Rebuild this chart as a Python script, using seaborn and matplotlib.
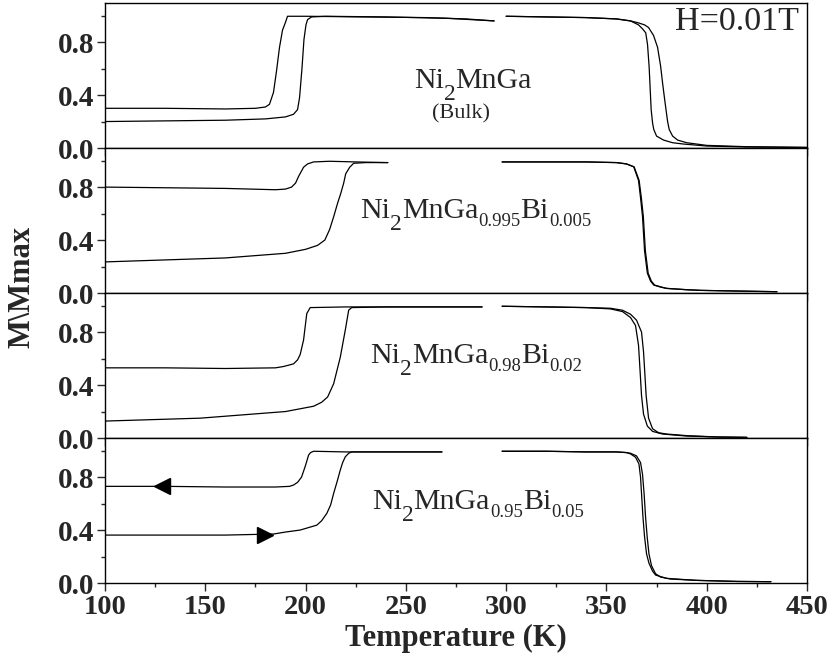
import numpy as np
import pandas as pd
import matplotlib
matplotlib.use("Agg")
import matplotlib.pyplot as plt
import seaborn as sns

# ---------------------------------------------------------------------------
# Normalised magnetisation M/Mmax vs temperature, H = 0.01 T
# low-T segment (martensitic transition) and high-T segment (Curie transition)
# ---------------------------------------------------------------------------

# Ni2MnGa (bulk)
T_bulk_cool_low = [100, 130, 160, 175, 180, 182, 184, 185.5, 187, 188.5, 190, 191, 200, 230, 260, 280, 294]
M_bulk_cool_low = [0.30, 0.30, 0.295, 0.30, 0.31, 0.33, 0.42, 0.58, 0.76, 0.89, 0.95, 0.995, 0.995, 0.99, 0.985, 0.975, 0.96]
T_bulk_heat_low = [100, 130, 160, 180, 190, 194, 196, 197, 198.2, 199.2, 200.2, 201, 203, 210, 240, 270, 294]
M_bulk_heat_low = [0.20, 0.205, 0.21, 0.22, 0.235, 0.255, 0.29, 0.38, 0.60, 0.82, 0.93, 0.97, 0.99, 0.995, 0.99, 0.98, 0.96]
T_bulk_cool_high = [300, 320, 340, 355, 362, 366, 368, 369.6, 370.5, 371.3, 371.8, 372.3, 373, 373.6, 375, 378.5, 383, 388.5, 400, 420, 450]
M_bulk_cool_high = [0.995, 0.99, 0.985, 0.975, 0.96, 0.93, 0.90, 0.87, 0.78, 0.61, 0.45, 0.29, 0.19, 0.14, 0.09, 0.06, 0.04, 0.03, 0.015, 0.008, 0.004]
T_bulk_heat_high = [300, 320, 340, 355, 362, 366, 369, 371, 373.5, 375.5, 377, 378, 379, 379.7, 380.5, 381.3, 383, 385.5, 390, 400, 420, 450]
M_bulk_heat_high = [0.995, 0.99, 0.985, 0.975, 0.96, 0.945, 0.93, 0.91, 0.85, 0.76, 0.62, 0.49, 0.37, 0.29, 0.20, 0.14, 0.09, 0.06, 0.04, 0.02, 0.01, 0.005]

# Ni2MnGa0.995Bi0.005
T_bi005_cool_low = [100, 130, 160, 185, 190, 193, 195, 196.5, 199, 201, 204, 212, 225, 241]
M_bi005_cool_low = [0.80, 0.795, 0.79, 0.78, 0.785, 0.80, 0.83, 0.88, 0.95, 0.975, 0.99, 0.995, 0.99, 0.985]
T_bi005_heat_low = [100, 130, 160, 190, 200, 206, 209.6, 212, 214, 216, 217.5, 219, 220, 222, 224, 230, 241]
M_bi005_heat_low = [0.235, 0.25, 0.265, 0.30, 0.33, 0.36, 0.40, 0.48, 0.576, 0.68, 0.75, 0.83, 0.90, 0.95, 0.98, 0.985, 0.985]
T_bi005_cool_high = [298, 320, 340, 355, 360, 363.6, 366, 367, 368, 369, 370.4, 372, 373.6, 377, 380, 390, 397, 415, 435]
M_bi005_cool_high = [0.99, 0.99, 0.99, 0.985, 0.975, 0.953, 0.85, 0.72, 0.576, 0.32, 0.15, 0.09, 0.06, 0.045, 0.035, 0.025, 0.02, 0.015, 0.01]
T_bi005_heat_high = [298, 320, 340, 355, 360, 363.8, 366.3, 367.4, 368.4, 369.4, 370.8, 372.4, 374, 377.4, 380, 390, 397, 415, 435]
M_bi005_heat_high = [0.99, 0.99, 0.99, 0.985, 0.975, 0.953, 0.85, 0.72, 0.576, 0.32, 0.15, 0.09, 0.06, 0.045, 0.035, 0.025, 0.02, 0.015, 0.01]

# Ni2MnGa0.98Bi0.02
T_bi02_cool_low = [100, 130, 160, 185, 189, 194, 196, 197.3, 199, 199.8, 200.6, 202.3, 220, 260, 288]
M_bi02_cool_low = [0.53, 0.53, 0.525, 0.53, 0.54, 0.56, 0.59, 0.63, 0.74, 0.84, 0.94, 0.985, 0.99, 0.99, 0.99]
T_bi02_heat_low = [100, 147.5, 190, 204, 208, 211, 214, 217.3, 219.8, 221.5, 223, 240, 288]
M_bi02_heat_low = [0.128, 0.15, 0.20, 0.24, 0.27, 0.31, 0.41, 0.61, 0.815, 0.966, 0.985, 0.99, 0.99]
T_bi02_cool_high = [298, 320, 340, 352, 358, 362, 364.5, 366, 366.8, 367.5, 368.5, 370.4, 373, 378, 390, 405, 420]
M_bi02_cool_high = [0.995, 0.99, 0.985, 0.975, 0.955, 0.91, 0.85, 0.70, 0.50, 0.32, 0.18, 0.09, 0.05, 0.03, 0.015, 0.008, 0.005]
T_bi02_heat_high = [298, 320, 340, 352, 358, 362, 365, 367.5, 368.5, 369.1, 369.8, 371, 373, 376, 380, 390, 405, 420]
M_bi02_heat_high = [0.995, 0.99, 0.985, 0.98, 0.965, 0.935, 0.89, 0.80, 0.65, 0.50, 0.32, 0.15, 0.07, 0.04, 0.03, 0.018, 0.008, 0.005]

# Ni2MnGa0.95Bi0.05
T_bi05_cool_low = [100, 130, 160, 185, 192, 194, 196, 198, 199.8, 201, 201.5, 202.5, 204, 220, 250, 268]
M_bi05_cool_low = [0.73, 0.73, 0.725, 0.725, 0.73, 0.74, 0.76, 0.80, 0.88, 0.94, 0.966, 0.985, 0.995, 0.99, 0.99, 0.99]
T_bi05_heat_low = [100, 130, 160, 184, 190, 197.3, 205.6, 208, 210.6, 212.5, 214, 215.8, 217.3, 218.5, 219.8, 221.5, 223, 240, 268]
M_bi05_heat_low = [0.362, 0.362, 0.362, 0.37, 0.385, 0.40, 0.437, 0.47, 0.526, 0.59, 0.677, 0.77, 0.853, 0.91, 0.953, 0.98, 0.99, 0.99, 0.99]
T_bi05_cool_high = [298, 320, 340, 355, 360, 362, 364.5, 366.2, 367, 367.6, 368.2, 369, 370, 371.2, 373, 374.5, 380, 395, 415, 432]
M_bi05_cool_high = [0.995, 0.995, 0.99, 0.99, 0.985, 0.975, 0.95, 0.90, 0.80, 0.65, 0.50, 0.35, 0.22, 0.15, 0.09, 0.06, 0.035, 0.02, 0.012, 0.01]
T_bi05_heat_high = [298, 320, 340, 355, 360, 362, 365, 367, 368, 368.8, 369.5, 370.3, 371.2, 372.5, 374.5, 377, 382, 395, 415, 432]
M_bi05_heat_high = [0.995, 0.995, 0.99, 0.99, 0.985, 0.98, 0.96, 0.91, 0.82, 0.67, 0.50, 0.35, 0.22, 0.13, 0.07, 0.045, 0.03, 0.02, 0.012, 0.01]

# direction arrows (cooling / heating) on the x = 0.05 sample
arrow_T_cool = [128.3]
arrow_M_cool = [0.732]
arrow_T_heat = [180.0]
arrow_M_heat = [0.362]

# sample formulas: (text, kind) with kind 0 = normal, 1 = stoichiometry "2", 2 = doping index
label_bulk = [("Ni", 0), ("2", 1), ("MnGa", 0)]
label_bi005 = [("Ni", 0), ("2", 1), ("MnGa", 0), ("0.995", 2), ("Bi", 0), ("0.005", 2)]
label_bi02 = [("Ni", 0), ("2", 1), ("MnGa", 0), ("0.98", 2), ("Bi", 0), ("0.02", 2)]
label_bi05 = [("Ni", 0), ("2", 1), ("MnGa", 0), ("0.95", 2), ("Bi", 0), ("0.05", 2)]
bulk_note = "(Bulk)"
field_label = "H=0.01T"
x_ticks = [100, 150, 200, 250, 300, 350, 400, 450]
y_ticks = [0.0, 0.4, 0.8]

panels = [
    [(T_bulk_cool_low, M_bulk_cool_low), (T_bulk_heat_low, M_bulk_heat_low),
     (T_bulk_cool_high, M_bulk_cool_high), (T_bulk_heat_high, M_bulk_heat_high)],
    [(T_bi005_cool_low, M_bi005_cool_low), (T_bi005_heat_low, M_bi005_heat_low),
     (T_bi005_cool_high, M_bi005_cool_high), (T_bi005_heat_high, M_bi005_heat_high)],
    [(T_bi02_cool_low, M_bi02_cool_low), (T_bi02_heat_low, M_bi02_heat_low),
     (T_bi02_cool_high, M_bi02_cool_high), (T_bi02_heat_high, M_bi02_heat_high)],
    [(T_bi05_cool_low, M_bi05_cool_low), (T_bi05_heat_low, M_bi05_heat_low),
     (T_bi05_cool_high, M_bi05_cool_high), (T_bi05_heat_high, M_bi05_heat_high)],
]

sns.set_style("ticks")
plt.rcParams.update({
    "font.family": ["Liberation Serif", "DejaVu Serif"],
    "axes.linewidth": 1.0,
    "axes.edgecolor": "black",
})

MAIN_SIZE = 21.5
PIECE_STYLE = {0: (MAIN_SIZE, 0.0), 1: (17.0, 8.3), 2: (13.5, 5.3)}


def formula(ax, x, y, pieces):
    """Write a chemical formula piece by piece with lowered subscripts."""
    prev = ax.text(x, y, pieces[0][0], fontsize=MAIN_SIZE, ha="left", va="baseline")
    for txt, kind in pieces[1:]:
        size, drop = PIECE_STYLE[kind]
        prev = ax.annotate(txt, xy=(1, y), xycoords=(prev, "data"),
                           xytext=(0, -drop), textcoords="offset points",
                           fontsize=size, ha="left", va="baseline")
    return prev


fig, axes = plt.subplots(4, 1, sharex=True, figsize=(8.3, 6.59), dpi=100)
fig.subplots_adjust(left=0.1265, right=0.9723, top=0.9954, bottom=0.1153, hspace=0)

for i, (ax, segs) in enumerate(zip(axes, panels)):
    frames = []
    for k, (t, m) in enumerate(segs):
        frames.append(pd.DataFrame({"T": t, "M": m, "seg": k}))
    df = pd.concat(frames, ignore_index=True)
    sns.lineplot(data=df, x="T", y="M", units="seg", estimator=None, sort=False,
                 color="black", linewidth=0.9, ax=ax, legend=False)
    ax.set_xlim(100, 450)
    ax.set_ylim(0, 1.095)
    ax.set_yticks(y_ticks)
    ax.set_yticklabels([f"{v:.1f}" for v in y_ticks])
    ax.set_yticks([0.2, 0.6, 1.0], minor=True)
    ax.set_xticks(x_ticks)
    ax.tick_params(axis="y", which="major", direction="out", length=6, width=1.0,
                   labelsize=21, pad=1.5)
    ax.tick_params(axis="y", which="minor", direction="out", length=3, width=1.0)
    ax.tick_params(axis="x", which="major", direction="out", length=6, width=1.0,
                   labelsize=20.5, pad=2.5)
    ax.tick_params(axis="x", which="minor", direction="out", length=3, width=1.0)
    for lab in ax.get_yticklabels():
        lab.set_fontweight("bold")
    ax.set_xlabel("")
    ax.set_ylabel("")
    for s in ax.spines.values():
        s.set_visible(True)
        s.set_linewidth(1.0)

axes[-1].set_xticks(np.arange(125, 450, 50), minor=True)
for lab in axes[-1].get_xticklabels():
    lab.set_fontweight("bold")

# sample names
formula(axes[0], 253.9, 0.451, label_bulk)
axes[0].text(263, 0.222, bulk_note, fontsize=16, ha="left", va="baseline")
axes[0].text(446, 0.888, field_label, fontsize=24.5, ha="right", va="baseline")
formula(axes[1], 227.3, 0.564, label_bi005)
formula(axes[2], 232.3, 0.564, label_bi02)
formula(axes[3], 233.1, 0.557, label_bi05)

# cooling / heating arrows
axes[3].plot(arrow_T_cool, arrow_M_cool, marker="<", ms=11.5, color="black", ls="none")
axes[3].plot(arrow_T_heat, arrow_M_heat, marker=">", ms=11.5, color="black", ls="none")

fig.text(456 / 830, 1 - 646 / 659, "Temperature (K)", fontsize=22, fontweight="bold",
         ha="center", va="baseline")
fig.text(22 / 830, 0.564, "M\\Mmax", fontsize=22, fontweight="bold",
         rotation=90, ha="center", va="center")

fig.savefig("out.png", dpi=100)
